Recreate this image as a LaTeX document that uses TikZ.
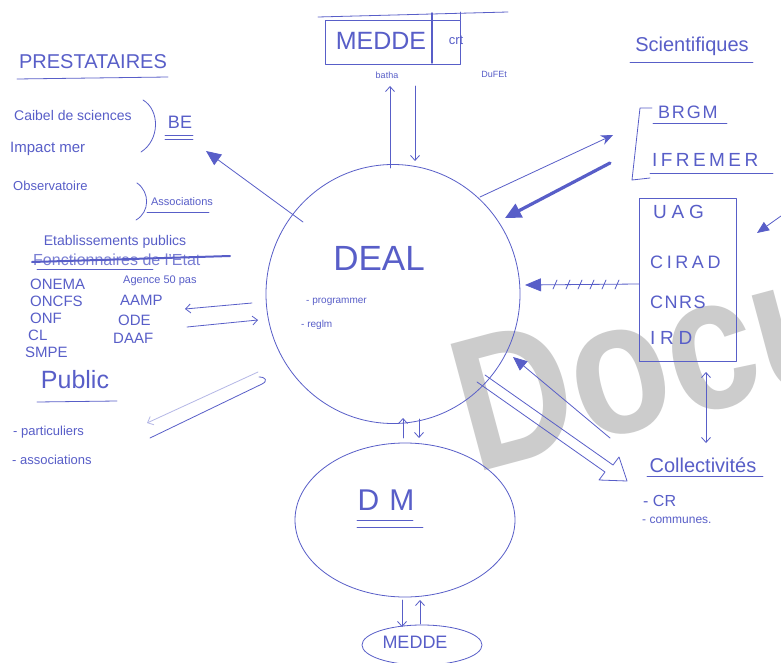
\documentclass[tikz,border=0pt]{standalone}
\usepackage{fontspec}
\setmainfont{Liberation Sans}
\usetikzlibrary{shapes.geometric,arrows.meta}
\definecolor{ink}{RGB}{88,94,200}
\definecolor{wmgray}{RGB}{204,204,204}
\begin{document}
\begin{tikzpicture}[x=1pt,y=-1pt,
  pen/.style={draw=ink, line width=0.8pt, line cap=round, line join=round},
  txt/.style={text=ink, inner sep=0pt},
  fs/.style={font=\fontsize{#1}{#1}\selectfont},
  fsp/.style 2 args={font=\fontsize{#1}{#1}\selectfont\addfontfeature{LetterSpace=#2}},
  blob/.style={ellipse, pen, inner sep=0pt},
  barb/.style={pen, -{Straight Barb[length=5pt,width=9pt]}},
  barbs/.style={pen, {Straight Barb[length=5pt,width=9pt]}-{Straight Barb[length=5pt,width=9pt]}},
  solidhead/.style={pen, -{Triangle[length=15pt,width=13pt]}},
]
\useasboundingbox (0,0) rectangle (781,663);
\fill[white] (0,0) rectangle (781,663);
\begin{scope}
\clip (0,0) rectangle (781,663);
% watermark
\node[anchor=base west, inner sep=0pt, text=wmgray, rotate=15, xscale=0.85, font=\fontsize{190}{190}\selectfont\bfseries] (wm) at (474,474) {Docu};

% ---------- central nodes ----------
\node[blob, minimum width=254pt, minimum height=259pt] (deal) at (393,294) {};
\node[txt, fs=35] (dealt) at (379,258) {DEAL};
\node[txt, fs=10, anchor=west] (prog) at (306,302) {- programmer};
\node[txt, fs=10, anchor=west] (regl) at (301,325) {- reglm};

\node[blob, minimum width=220pt, minimum height=154pt] (dm) at (405,520) {};
\node[txt, fs=30] (dmt) at (386,500) {D\,\,M};
\draw[pen] (357,520) -- (413,520);
\draw[pen] (357,527) -- (423,527);

\node[blob, minimum width=120pt, minimum height=40pt] (meddeb) at (422,645) {};
\node[txt, fs=18] (meddebt) at (415,642) {MEDDE};

% ---------- top box ----------
\node[pen, draw, minimum width=135pt, minimum height=44pt, inner sep=0pt] (topbox) at (392.5,42) {};
\draw[pen] (318,17) -- (508,12);
\draw[pen] (460,12) -- (460,20);
\draw[pen, line width=1.4pt] (432,13) -- (432,63);
\node[txt, fs=25] (meddet) at (381,41) {MEDDE};
\node[txt, fs=13] (crt) at (456,40) {crt};
\node[txt, fs=9] (batha) at (387,75) {batha};
\node[txt, fs=9] (dufet) at (494,74) {DuFEt};
\coordinate (tu1) at (390,168); \coordinate (tu2) at (390,86);
\coordinate (td1) at (415,86);  \coordinate (td2) at (415,161);
\draw[barb] (tu1) -- (tu2);
\draw[barb] (td1) -- (td2);

% ---------- PRESTATAIRES ----------
\node[txt, fs=20] (prest) at (93,62) {PRESTATAIRES};
\draw[pen] (17,79) -- (168,77);
\node[txt, fs=14, anchor=west] (cab) at (14,115) {Caibel de sciences};
\node[txt, fs=15, anchor=west] (imp) at (10,149) {Impact mer};
\draw[pen] (143,100) .. controls (160,110) and (160,140) .. (141,152);
\node[txt, fs=18] (be) at (180,122) {BE};
\draw[pen] (165,135) -- (193,135);
\draw[pen] (165,139) -- (193,139);
\node[txt, fs=13, anchor=west] (obs) at (13,186) {Observatoire};
\draw[pen] (137,183) .. controls (150,192) and (150,212) .. (136,220);
\node[txt, fs=11] (assoc) at (182,202) {Associations};
\draw[pen] (147,212) -- (209,212);
\coordinate (dbe) at (303,222); \coordinate (beh) at (206,151);
\draw[solidhead] (dbe) -- (beh);

% ---------- Etablissements publics ----------
\node[txt, fs=14] (etab) at (115,242) {Etablissements publics};
\node[txt, fs=16, anchor=west, text=ink!80] (fonct) at (33,260) {Fonctionnaires de l'Etat};
\draw[pen, line width=2pt] (32,262) -- (230,256);
\draw[pen] (37,269) -- (153,269);
\node[txt, fs=15, anchor=west] (onema) at (30,284) {ONEMA};
\node[txt, fs=15, anchor=west] (oncfs) at (30,301) {ONCFS};
\node[txt, fs=15, anchor=west] (onf) at (30,318) {ONF};
\node[txt, fs=15, anchor=west] (cl) at (28,335) {CL};
\node[txt, fs=15, anchor=west] (smpe) at (25,352) {SMPE};
\node[txt, fs=11, anchor=west] (agence) at (123,281) {Agence 50 pas};
\node[txt, fs=15, anchor=west] (aamp) at (120,300) {AAMP};
\node[txt, fs=15, anchor=west] (ode) at (118,320) {ODE};
\node[txt, fs=15, anchor=west] (daaf) at (113,338) {DAAF};
\coordinate (la1) at (252,303); \coordinate (la2) at (185,309);
\coordinate (ra1) at (187,327); \coordinate (ra2) at (258,320);
\draw[barb] (la1) -- (la2);
\draw[barb] (ra1) -- (ra2);

% ---------- Public ----------
\node[txt, fs=25] (pub) at (75,380) {Public};
\draw[pen] (37,402) -- (117,401);
\node[txt, fs=13, anchor=west] (part) at (13,432) {- particuliers};
\node[txt, fs=13, anchor=west] (assoc2) at (12,460) {- associations};
\coordinate (pa1) at (258,372); \coordinate (pa2) at (147,423);
\coordinate (pb1) at (150,438); \coordinate (pb2) at (262,384);
\draw[barb, draw=ink!45] (pa1) -- (pa2);
\draw[pen] (pb1) -- (pb2) .. controls (268,381) and (266,377) .. (259,377);

% ---------- Scientifiques ----------
\node[txt, fs=20] (sci) at (692,46) {Scientifiques};
\draw[pen] (630,62) -- (753,62);
\draw[pen] (652,108) -- (640,108) -- (632,180) -- (650,178);
\node[txt, fsp={18}{10}, anchor=west] (brgm) at (658,112) {BRGM};
\draw[pen] (653,123) -- (727,123);
\node[txt, fsp={19}{18}, anchor=west] (ifremer) at (652,160) {IFREMER};
\draw[pen] (650,173) -- (773,173);

\node[pen, draw, minimum width=97pt, minimum height=163pt, inner sep=0pt] (univ) at (688,280) {};
\node[txt, fsp={19}{25}, anchor=west] (uag) at (653,212) {UAG};
\node[txt, fsp={18}{20}, anchor=west] (cirad) at (650,262) {CIRAD};
\node[txt, fsp={18}{8}, anchor=west] (cnrs) at (650,302) {CNRS};
\node[txt, fsp={19}{25}, anchor=west] (ird) at (650,338) {IRD};

\coordinate (fr1) at (781,216); \coordinate (fr2) at (757,233);
\draw[pen, -{Triangle[length=12pt,width=10pt]}] (fr1) -- (fr2);

\coordinate (sa1) at (480,197); \coordinate (sa2) at (613,135);
\draw[pen, -{Stealth[length=12pt,width=10pt]}] (sa1) -- (sa2);
\coordinate (sb1) at (610,163); \coordinate (sb2) at (505,218);
\draw[pen, line width=3.2pt, -{Triangle[length=16pt,width=15pt]}] (sb1) -- (sb2);

\coordinate (ha1) at (univ.west |- 0,284); \coordinate (ha2) at (525,285);
\draw[pen, -{Triangle[length=16pt,width=13pt]}] (ha1) -- (ha2);
\foreach \t in {555,568,580,592,604,617}{\draw[pen] (\t-2,289) -- (\t+2,280);}

% ---------- Collectivites ----------
\coordinate (ca1) at (610,438); \coordinate (ca2) at (513,357);
\draw[pen, -{Triangle[length=14pt,width=12pt]}] (ca1) -- (ca2);
\draw[pen] (485,375) -- (613,465) -- (619,457) -- (627,481) -- (599,480) -- (605,472) -- (477,382);
\coordinate (va1) at (706,372); \coordinate (va2) at (706,443);
\draw[barbs] (va1) -- (va2);
\node[txt, fs=20] (coll) at (703,465) {Collectivités};
\draw[pen] (647,476) -- (763,476);
\node[txt, fs=16, anchor=west] (cr) at (643,501) {- CR};
\node[txt, fs=12, anchor=west] (comm) at (642,520) {- communes.};

% ---------- vertical links ----------
\coordinate (du1) at (403,438); \coordinate (du2) at (403,418);
\coordinate (dd1) at (419,419); \coordinate (dd2) at (419,438);
\draw[barb] (du1) -- (du2);
\draw[barb] (dd1) -- (dd2);
\coordinate (mu1) at (402,600); \coordinate (mu2) at (402,627);
\coordinate (md1) at (420,624); \coordinate (md2) at (420,600);
\draw[barb] (mu1) -- (mu2);
\draw[barb] (md1) -- (md2);
\end{scope}
\end{tikzpicture}
\end{document}
